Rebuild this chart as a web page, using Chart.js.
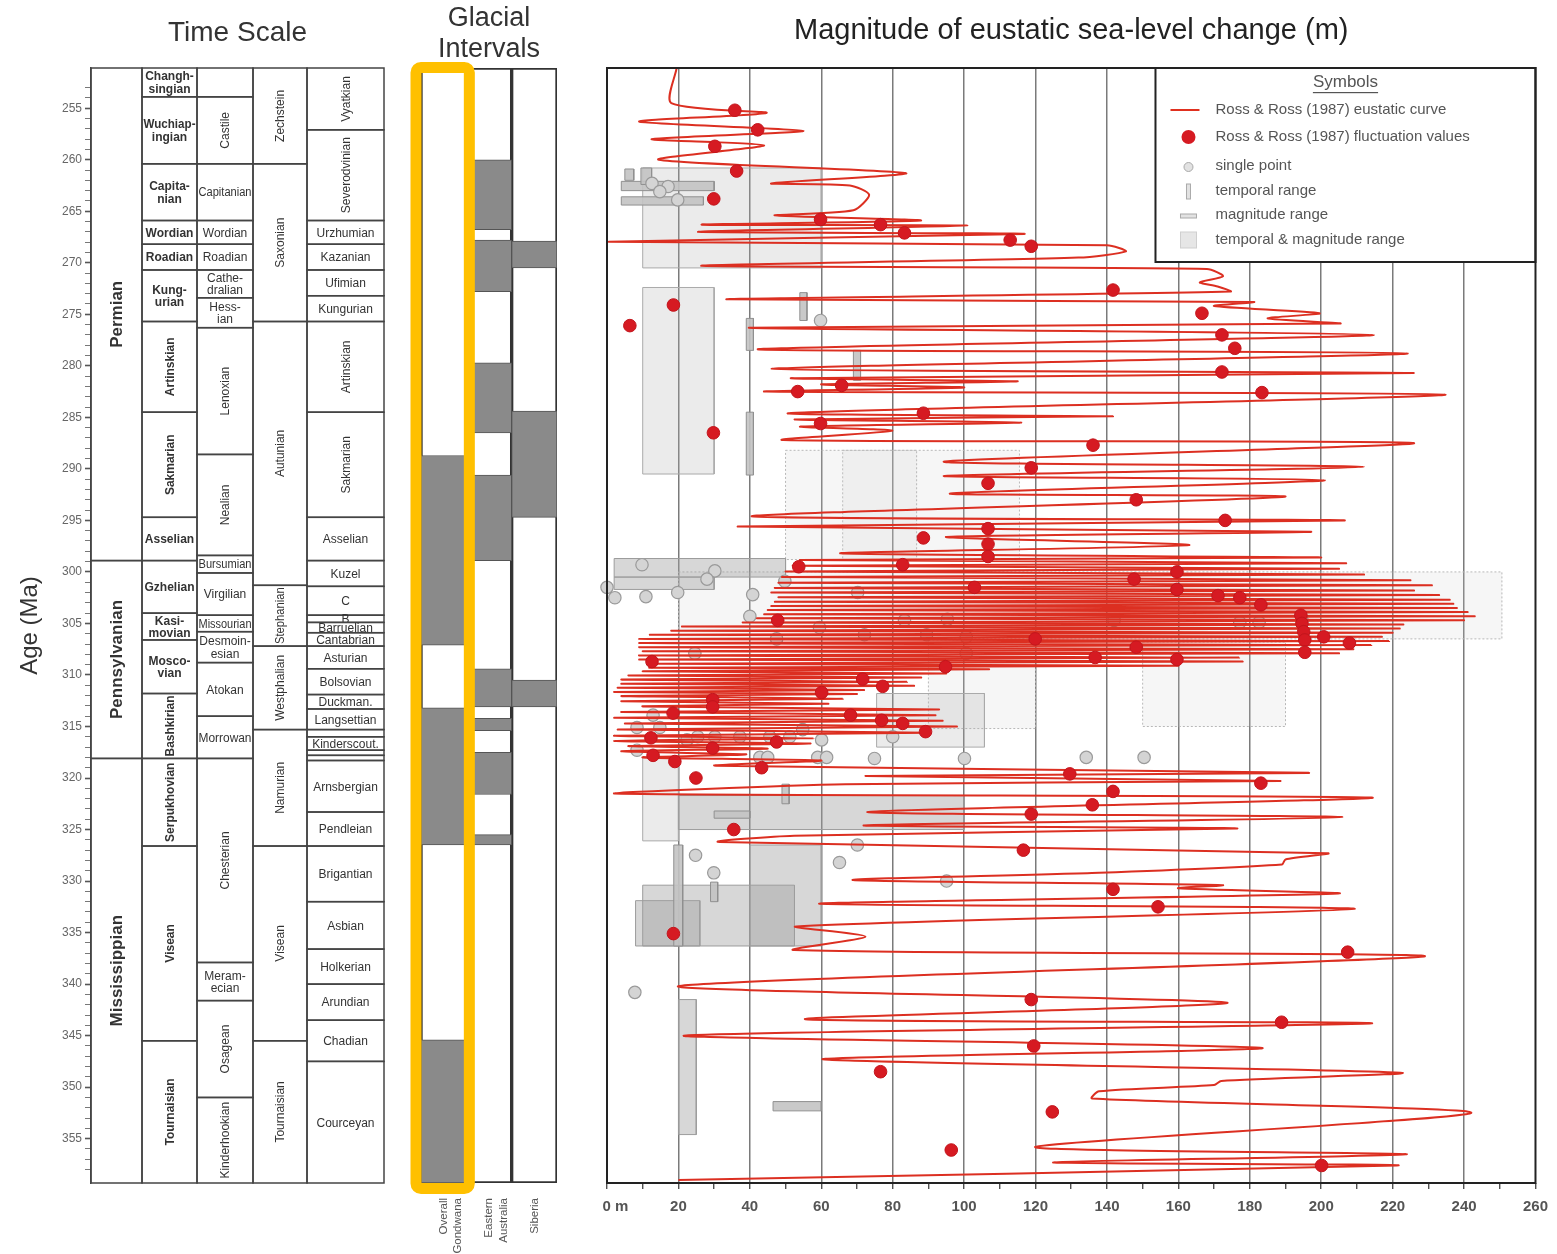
<!DOCTYPE html>
<html>
<head>
<meta charset="utf-8">
<title>Eustatic sea-level change, Carboniferous-Permian</title>
<script src="https://cdn.jsdelivr.net/npm/chart.js@4.4.1/dist/chart.umd.min.js"></script>
<style>
  html, body { margin: 0; padding: 0; background: #fff; }
  #page { position: relative; width: 1557px; height: 1254px; overflow: hidden; }
  canvas { position: absolute; top: 0; }
  #timeScale { left: 0; }
  #glacial { left: 400px; }
  #seaLevel { left: 570px; }
</style>
</head>
<body>
<div id="page">
  <canvas id="timeScale" width="400" height="1254"></canvas>
  <canvas id="glacial" width="170" height="1254"></canvas>
  <canvas id="seaLevel" width="987" height="1254"></canvas>
</div>
<script>
// age range shown (Ma), top to bottom
const AGE_TOP = 251.1;
const AGE_BOTTOM = 359.3;

// ---- time scale: [top age, base age, name] ----
const periods = [
  [251.1, 298.9, 'Permian'], [298.9, 318.1, 'Pennsylvanian'], [318.1, 359.3, 'Mississippian']
];
const globalStages = [
  [251.1, 253.9, 'Changh-\nsingian'], [253.9, 260.4, 'Wuchiap-\ningian'], [260.4, 265.9, 'Capita-\nnian'],
  [265.9, 268.2, 'Wordian'], [268.2, 270.7, 'Roadian'], [270.7, 275.7, 'Kung-\nurian'],
  [275.7, 284.5, 'Artinskian'], [284.5, 294.7, 'Sakmarian'], [294.7, 298.9, 'Asselian'],
  [298.9, 304.0, 'Gzhelian'], [304.0, 306.6, 'Kasi-\nmovian'], [306.6, 311.8, 'Mosco-\nvian'],
  [311.8, 318.1, 'Bashkirian'], [318.1, 326.6, 'Serpukhovian'], [326.6, 345.5, 'Visean'],
  [345.5, 359.3, 'Tournaisian']
];
const northAmericanStages = [
  [251.1, 253.9, ''], [253.9, 260.4, 'Castile'], [260.4, 265.9, 'Capitanian'], [265.9, 268.2, 'Wordian'],
  [268.2, 270.7, 'Roadian'], [270.7, 273.4, 'Cathe-\ndralian'], [273.4, 276.3, 'Hess-\nian'],
  [276.3, 288.6, 'Lenoxian'], [288.6, 298.4, 'Nealian'], [298.4, 300.1, 'Bursumian'],
  [300.1, 304.2, 'Virgilian'], [304.2, 305.8, 'Missourian'], [305.8, 308.8, 'Desmoin-\nesian'],
  [308.8, 314.0, 'Atokan'], [314.0, 318.1, 'Morrowan'], [318.1, 337.9, 'Chesterian'],
  [337.9, 341.6, 'Meram-\necian'], [341.6, 351.0, 'Osagean'], [351.0, 359.3, 'Kinderhookian']
];
const europeanSeries = [
  [251.1, 260.4, 'Zechstein'], [260.4, 275.7, 'Saxonian'], [275.7, 301.3, 'Autunian'],
  [301.3, 307.2, 'Stephanian'], [307.2, 315.3, 'Westphalian'], [315.3, 326.6, 'Namurian'],
  [326.6, 345.5, 'Visean'], [345.5, 359.3, 'Tournaisian']
];
const regionalStages = [
  [251.1, 257.1, 'Vyatkian'], [257.1, 265.9, 'Severodvinian'], [265.9, 268.2, 'Urzhumian'],
  [268.2, 270.7, 'Kazanian'], [270.7, 273.2, 'Ufimian'], [273.2, 275.7, 'Kungurian'],
  [275.7, 284.5, 'Artinskian'], [284.5, 294.7, 'Sakmarian'], [294.7, 298.9, 'Asselian'],
  [298.9, 301.4, 'Kuzel'], [301.4, 304.2, 'C'], [304.2, 304.9, 'B'], [304.9, 305.9, 'Barruelian'],
  [305.9, 307.2, 'Cantabrian'], [307.2, 309.4, 'Asturian'], [309.4, 311.9, 'Bolsovian'],
  [311.9, 313.3, 'Duckman.'], [313.3, 315.3, 'Langsettian'], [315.3, 316.0, ''],
  [316.0, 317.3, 'Kinderscout.'], [317.3, 317.8, ''], [317.8, 318.3, ''],
  [318.3, 323.3, 'Arnsbergian'], [323.3, 326.6, 'Pendleian'], [326.6, 332.0, 'Brigantian'],
  [332.0, 336.6, 'Asbian'], [336.6, 340.0, 'Holkerian'], [340.0, 343.5, 'Arundian'],
  [343.5, 347.5, 'Chadian'], [347.5, 359.3, 'Courceyan']
];

// ---- glacial intervals [top age, base age] ----
const glacialRegions = [['Overall', 'Gondwana'], ['Eastern', 'Australia'], ['Siberia']];
const gondwanaIce = [[288.7, 307.1], [313.2, 326.5], [345.4, 359.3]];
const eastAustraliaIce = [[260.0, 266.8], [267.8, 272.8], [279.7, 286.5], [290.6, 298.9],
  [309.4, 313.1], [314.2, 315.4], [317.5, 321.6], [325.5, 326.5]];
const siberiaIce = [[267.9, 270.5], [284.4, 294.7], [310.5, 313.1]];

// ---- Ross & Ross (1987) eustatic curve: [magnitude m, age Ma] ----
const rossCurve = [
  [19.5, 251.1], [18.0, 254.5], [44.7, 255.45], [9.0, 256.3], [55.0, 257.2], [12.5, 258.0], [44.0, 258.6],
  [14.5, 260.0], [83.7, 261.3], [46.0, 262.3], [68.0, 262.5], [73.4, 263.4], [69.0, 264.9], [47.0, 265.4],
  [87.9, 265.9], [26.5, 266.3], [100.9, 266.4], [25.5, 267.0], [116.9, 267.2], [0.5, 267.95], [140.0, 268.3],
  [145.3, 268.9], [132.0, 269.5], [26.5, 270.3], [168.0, 270.6], [172.5, 271.3], [166.0, 271.9], [171.0, 272.3],
  [174.6, 272.8], [33.4, 273.55], [181.0, 273.8], [170.0, 274.2], [199.5, 274.9], [185.0, 275.4], [205.0, 275.9],
  [39.7, 276.3], [214.7, 277.0], [42.2, 278.4], [224.2, 278.8], [46.1, 280.3], [225.9, 280.7], [52.0, 281.2],
  [115.0, 281.5], [60.0, 281.8], [100.0, 282.1], [44.6, 282.5], [234.8, 282.8], [51.0, 284.6], [141.7, 284.9],
  [52.6, 285.2], [116.0, 285.5], [54.2, 285.9], [79.9, 286.3], [49.4, 287.2], [225.9, 287.5], [94.3, 289.3],
  [212.0, 289.8], [94.3, 290.7], [201.0, 291.1], [96.0, 292.4], [189.8, 292.7], [40.5, 294.6], [206.6, 295.0],
  [36.6, 295.6], [197.0, 296.1], [95.0, 296.6], [163.0, 297.4], [65.4, 298.2],
  [200, 298.6], [54, 298.85], [207, 299.15], [52, 299.4], [205, 299.7], [50, 299.95], [212, 300.25], [49, 300.5],
  [225, 300.8], [48, 301.05], [231, 301.3], [47, 301.55], [226, 301.8], [46, 302.0], [233, 302.25], [48, 302.45],
  [236, 302.7], [47, 302.9], [237, 303.1], [46, 303.3], [238, 303.5], [45, 303.7], [241, 303.9], [44, 304.1],
  [243, 304.3], [42, 304.5], [240, 304.7], [38, 304.9], [223, 305.1], [21, 305.3], [222, 305.5], [18, 305.7],
  [220, 305.9], [12, 306.1], [217, 306.3], [9, 306.5], [219, 306.7], [9, 306.9], [214, 307.1], [9, 307.3],
  [209, 307.5], [10, 307.7], [205, 307.9], [9, 308.1], [177, 308.3], [9, 308.5], [178, 308.7], [14, 308.9],
  [160, 309.1], [12, 309.3], [107, 309.45], [10, 309.65], [95, 309.85], [6, 310.05], [88, 310.25], [4, 310.45],
  [84, 310.65], [4, 310.85], [86, 311.05], [3, 311.25], [72, 311.45], [2, 311.65], [70, 311.85], [4, 312.05],
  [66, 312.3], [4, 312.55], [62, 312.8], [10, 313.05], [93, 313.35], [4, 313.6], [92, 313.9], [2, 314.15],
  [94, 314.45], [5, 314.7], [98, 315.0], [3, 315.3], [90, 315.6], [2, 315.9], [58, 316.15], [2, 316.4],
  [57, 316.65], [6, 316.9], [45, 317.15], [4, 317.4], [39, 317.7], [10, 318.0], [60, 318.3],
  [30.5, 318.8], [196.5, 319.5], [72.4, 319.8], [188.6, 320.3], [66.8, 320.6], [2.0, 321.5], [214.2, 321.9],
  [72.9, 323.3], [205.9, 323.8], [71.9, 324.6], [176.5, 324.9], [52.4, 325.6], [31.5, 326.2], [201.7, 327.3],
  [190.0, 327.9], [189.0, 328.4], [137.8, 329.2], [68.9, 329.9], [172.3, 330.4], [160.0, 330.7], [204.7, 331.2],
  [59.4, 332.2], [209.4, 332.7], [53.0, 334.4], [72.4, 335.4], [52.4, 336.7], [229.0, 337.3], [20.0, 340.2],
  [173.7, 341.8], [55.5, 343.4], [214.2, 343.8], [21.5, 345.0], [183.5, 346.2], [60.4, 347.3], [222.2, 348.6],
  [172.0, 349.4], [170.0, 349.8], [137.8, 350.4], [135.8, 351.1], [242.0, 352.5], [119.9, 355.8], [224.0, 356.5],
  [124.9, 357.3], [221.2, 357.6], [20.0, 359.0]
];

// Ross & Ross (1987) fluctuation values [m, Ma]
const rossFluctuations = [
  [35.8, 255.2], [42.2, 257.1], [30.2, 258.7], [36.3, 261.1], [29.9, 263.8], [59.8, 265.8], [76.6, 266.3],
  [83.3, 267.1], [112.9, 267.8], [118.8, 268.4], [141.7, 272.65], [18.6, 274.1], [6.4, 276.1], [166.6, 274.9],
  [172.2, 277.0], [175.8, 278.3], [172.2, 280.6], [183.4, 282.6], [65.7, 281.9], [53.4, 282.5], [88.6, 284.6],
  [59.8, 285.6], [29.8, 286.5], [136.1, 287.7], [118.8, 289.9], [106.7, 291.4], [148.2, 293.0], [173.1, 295.0],
  [106.7, 295.8], [88.6, 296.7], [106.7, 297.3], [106.7, 298.5], [53.7, 299.5], [82.8, 299.3], [102.9, 301.5],
  [47.8, 304.7], [12.6, 308.7], [94.8, 309.2], [71.6, 310.4], [77.2, 311.1], [60.1, 311.7], [29.6, 312.4],
  [29.6, 313.1], [18.5, 313.7], [68.2, 313.9], [76.9, 314.4], [82.8, 314.7], [89.2, 315.5], [12.3, 316.1],
  [47.5, 316.5], [29.6, 317.1], [12.9, 317.8], [19.0, 318.4], [43.3, 319.0], [129.6, 319.6], [159.6, 300.0],
  [147.6, 300.7], [159.6, 301.7], [171.1, 302.3], [177.2, 302.5], [183.1, 303.2], [194.3, 304.2], [194.6, 305.0],
  [195.1, 305.8], [195.4, 306.6], [195.4, 307.8], [200.7, 306.3], [207.9, 306.9], [148.2, 307.3], [136.7, 308.3],
  [159.6, 308.5], [119.9, 306.5], [24.9, 320.0], [141.7, 321.3], [183.1, 320.5], [135.9, 322.6], [118.8, 323.5],
  [35.5, 325.0], [116.6, 327.0], [141.7, 330.8], [154.3, 332.5], [18.6, 335.1], [207.4, 336.9], [118.8, 341.5],
  [188.9, 343.7], [119.5, 346.0], [76.6, 348.5], [124.7, 352.4], [96.4, 356.1], [200.1, 357.6]
];

// compiled single-point estimates [m, Ma]
const singlePoints = [
  [12.6, 262.3], [17.1, 262.6], [14.8, 263.1], [19.8, 263.9], [59.8, 275.6],
  [9.8, 299.3], [30.2, 299.9], [28.0, 300.7], [0, 301.5], [2.2, 302.5], [10.9, 302.4], [19.8, 302.0],
  [40.8, 302.2], [40.0, 304.3], [49.8, 300.9], [70.2, 302.0], [83.3, 304.7], [95.3, 304.6], [59.5, 305.4],
  [72.1, 306.1], [89.5, 306.1], [100.6, 306.3], [47.5, 306.5], [24.6, 307.9], [100.6, 307.9], [142, 304.7],
  [177.2, 304.9], [182.6, 304.9], [194.6, 304.7],
  [12.9, 313.9], [8.4, 315.1], [14.8, 315.1], [22.4, 316.3], [25.4, 316.0], [30.2, 316.0], [37.2, 316.0],
  [45.6, 316.0], [51.2, 316.0], [54.8, 315.3], [60.1, 316.3], [80.0, 316.0], [8.4, 317.3], [42.8, 318.0],
  [45.0, 318.0], [59.0, 318.0], [61.5, 318.0], [74.9, 318.1], [100.1, 318.1], [134.2, 318.0], [150.4, 318.0],
  [24.8, 327.5], [29.9, 329.2], [70.1, 326.5], [65.1, 328.2], [95.1, 330.0], [7.8, 340.8]
];

// ranges [m from, m to, Ma from, Ma to]
const tmRanges = [
  [10, 60, 260.8, 270.5], [10, 30, 272.4, 290.5], [75.5, 105.7, 311.8, 317.0], [10, 20, 318.0, 326.1]
];
const tmRangesDense = [
  [2, 50, 298.7, 300.5], [2, 30, 300.5, 301.7], [20, 100, 321.7, 325.0], [40, 60, 326.5, 336.3],
  [10, 52.5, 330.4, 336.3], [8, 26, 331.9, 336.3], [20, 25, 341.5, 354.6]
];
const looseRanges = [
  [50, 86.7, 288.2, 298.8], [66, 115.5, 288.2, 298.8], [20, 250.6, 300.0, 306.5],
  [90, 120, 306.6, 315.2], [150, 190, 306.8, 315.0]
];
const temporalRanges = [
  [5, 7.5, 260.9, 262.0], [9.5, 12.5, 260.8, 262.4], [39, 41, 275.4, 278.5], [39, 41, 284.5, 290.6],
  [54, 56, 272.9, 275.6], [69, 71, 278.5, 281.4], [49, 51, 320.6, 322.5], [18.7, 21.2, 326.5, 336.3],
  [29, 31, 330.1, 332.0]
];
const magnitudeRanges = [
  [4, 30, 262.1, 263.0], [4, 27, 263.6, 264.4], [30, 40, 323.2, 323.9], [46.5, 60, 351.4, 352.3]
];

// ---------------- layout / styling ----------------
Chart.defaults.font.family = '"Liberation Sans", Arial, sans-serif';
Chart.defaults.color = '#555';

const FONT = '"Liberation Sans", Arial, sans-serif';
const stageColumns = [periods, globalStages, northAmericanStages, europeanSeries, regionalStages];
const columnEdges = [0, 51, 106, 162, 216, 293];
const columnFonts = ['bold 17px ' + FONT, 'bold 12px ' + FONT, '12px ' + FONT, '12px ' + FONT, '12px ' + FONT];
const uprightNames = new Set(['Permian', 'Pennsylvanian', 'Mississippian', 'Artinskian', 'Sakmarian',
  'Bashkirian', 'Serpukhovian', 'Visean', 'Tournaisian', 'Castile', 'Lenoxian', 'Nealian', 'Chesterian',
  'Osagean', 'Kinderhookian', 'Zechstein', 'Saxonian', 'Autunian', 'Stephanian', 'Westphalian',
  'Namurian', 'Vyatkian', 'Severodvinian']);

const stageCells = {
  id: 'stageCells',
  afterDraw(chart) {
    const {ctx, scales: {x, y}} = chart;
    ctx.save();
    ctx.strokeStyle = '#444';
    ctx.lineWidth = 1.5;
    ctx.textAlign = 'center';
    ctx.textBaseline = 'middle';
    stageColumns.forEach((col, c) => {
      const x0 = x.getPixelForValue(columnEdges[c]);
      const x1 = x.getPixelForValue(columnEdges[c + 1]);
      col.forEach(([a0, a1, name]) => {
        const y0 = y.getPixelForValue(a0);
        const y1 = y.getPixelForValue(a1);
        ctx.strokeRect(x0, y0, x1 - x0, y1 - y0);
        if (!name) return;
        ctx.fillStyle = '#333';
        ctx.font = columnFonts[c];
        const cx = (x0 + x1) / 2, cy = (y0 + y1) / 2;
        if (uprightNames.has(name)) {
          ctx.save();
          ctx.translate(cx, cy);
          ctx.rotate(-Math.PI / 2);
          ctx.fillText(name, 0, 1, y1 - y0 - 4);
          ctx.restore();
        } else {
          const lines = name.split('\n');
          lines.forEach((t, i) => {
            ctx.fillText(t, cx, cy + 1 + (i - (lines.length - 1) / 2) * 12.5, x1 - x0 - 3);
          });
        }
      });
    });
    ctx.restore();
  }
};

new Chart(document.getElementById('timeScale'), {
  type: 'scatter',
  data: { datasets: [] },
  options: {
    responsive: false,
    animation: false,
    layout: { padding: { left: 0, right: 16, top: 0, bottom: 71 } },
    plugins: {
      legend: { display: false },
      tooltip: { enabled: false },
      title: {
        display: true, text: 'Time Scale', fullSize: false, color: '#333',
        font: { size: 28, weight: 'normal', lineHeight: 1.2 }, padding: { top: 16, bottom: 18.4 }
      }
    },
    scales: {
      x: { type: 'linear', min: 0, max: 293, display: false },
      y: {
        type: 'linear', reverse: true, min: AGE_TOP, max: AGE_BOTTOM, position: 'left',
        afterBuildTicks: s => { s.ticks = s.ticks.filter(t => Number.isInteger(t.value)); },
        afterFit: s => { s.width = 91; },
        ticks: {
          stepSize: 1, maxTicksLimit: 200, autoSkip: false, color: '#666', padding: 3,
          font: { size: 12 }, callback: v => (v % 5 === 0 ? v : '')
        },
        grid: {
          drawOnChartArea: false, tickLength: 6, tickColor: '#555',
          tickWidth: c => (c.tick && c.tick.value % 5 === 0 ? 1.6 : 0.8)
        },
        border: { color: '#444', width: 1.5 },
        title: { display: true, text: 'Age (Ma)', color: '#333', font: { size: 24 }, padding: { top: 16, bottom: 0 } }
      }
    }
  },
  plugins: [stageCells]
});

// ---------------- glacial intervals ----------------
const iceSets = [gondwanaIce, eastAustraliaIce, siberiaIce];
const iceDepth = Math.max(...iceSets.map(s => s.length));
const barBase = { grouped: false, categoryPercentage: 1, barPercentage: 1, borderSkipped: false };
const glacialDatasets = [{
  ...barBase, order: 2,
  data: glacialRegions.map(() => [AGE_TOP, AGE_BOTTOM]),
  backgroundColor: '#fff', borderColor: '#333', borderWidth: 2
}];
for (let k = 0; k < iceDepth; k++) {
  glacialDatasets.push({
    ...barBase, order: 1,
    data: iceSets.map(s => s[k] || null),
    backgroundColor: '#8a8a8a', borderColor: '#555', borderWidth: 1
  });
}

const gondwanaHighlight = {
  id: 'gondwanaHighlight',
  afterDraw(chart) {
    const {ctx, chartArea: a, scales: {x}} = chart;
    const half = (x.getPixelForValue(1) - x.getPixelForValue(0)) / 2;
    const left = x.getPixelForValue(0) - half;
    const right = x.getPixelForValue(0) + half;
    ctx.save();
    ctx.strokeStyle = '#FFC000';
    ctx.lineWidth = 11;
    ctx.beginPath();
    ctx.roundRect(left - 5, a.top - 0.5, right - left + 8, a.bottom - a.top + 6, 5);
    ctx.stroke();
    ctx.restore();
  }
};

new Chart(document.getElementById('glacial'), {
  type: 'bar',
  data: { labels: glacialRegions, datasets: glacialDatasets },
  options: {
    responsive: false,
    animation: false,
    layout: { padding: { left: 21, right: 13, top: 0, bottom: 0 } },
    plugins: {
      legend: { display: false },
      tooltip: { enabled: false },
      title: {
        display: true, text: ['Glacial', 'Intervals'], fullSize: false, color: '#333',
        font: { size: 27, weight: 'normal', lineHeight: 1.15 }, padding: { top: 3, bottom: 2.9 }
      }
    },
    scales: {
      x: {
        type: 'category',
        afterFit: s => { s.height = 71; },
        grid: { display: false },
        border: { display: false },
        ticks: { minRotation: 90, maxRotation: 90, autoSkip: false, padding: 7, color: '#555', font: { size: 11.5, lineHeight: 1.25 } }
      },
      y: { type: 'linear', reverse: true, min: AGE_TOP, max: AGE_BOTTOM, display: false }
    }
  },
  plugins: [gondwanaHighlight]
});

// ---------------- sea-level magnitude ----------------
const toXY = arr => arr.map(([m, a]) => ({ x: m, y: a }));
const box = ([m0, m1, a0, a1]) => [
  { x: m0, y: a0 }, { x: m1, y: a0 }, { x: m1, y: a1 }, { x: m0, y: a1 }, { x: m0, y: a0 }
];
const rangeSets = (list, style, order) => list.map(r => ({
  type: 'line', data: box(r), fill: 'shape', pointRadius: 0, tension: 0, order, ...style
}));

const seaDatasets = [
  ...rangeSets(looseRanges, { backgroundColor: 'rgba(205,205,205,0.18)', borderColor: '#b8b8b8', borderWidth: 1, borderDash: [2, 2] }, 7),
  ...rangeSets(tmRanges, { backgroundColor: 'rgba(175,175,175,0.25)', borderColor: '#aaa', borderWidth: 1 }, 6),
  ...rangeSets(tmRangesDense, { backgroundColor: 'rgba(160,160,160,0.42)', borderColor: '#9c9c9c', borderWidth: 1 }, 5),
  ...rangeSets(temporalRanges, { backgroundColor: 'rgba(195,195,195,0.9)', borderColor: '#909090', borderWidth: 1 }, 4),
  ...rangeSets(magnitudeRanges, { backgroundColor: 'rgba(195,195,195,0.9)', borderColor: '#909090', borderWidth: 1 }, 4),
  {
    label: 'single point', data: toXY(singlePoints), order: 3, clip: false,
    pointRadius: 6.2, backgroundColor: '#d4d4d4', borderColor: '#9a9a9a', borderWidth: 1.2
  },
  {
    type: 'line', label: 'Ross & Ross (1987) eustatic curve', data: toXY(rossCurve), order: 2,
    borderColor: '#dc2f21', borderWidth: 2, pointRadius: 0, tension: 0.25, fill: false
  },
  {
    label: 'Ross & Ross (1987) fluctuation values', data: toXY(rossFluctuations), order: 1,
    pointRadius: 6.3, backgroundColor: '#d61a22', borderColor: '#c2151c', borderWidth: 1
  }
];

const symbolsBox = {
  id: 'symbolsBox',
  afterDatasetsDraw(chart) {
    const {ctx, chartArea: a} = chart;
    const w = 380, h = 194;
    const x0 = a.right - w, y0 = a.top;
    const ix = x0 + 33, tx = x0 + 60;
    ctx.save();
    ctx.fillStyle = '#fff';
    ctx.fillRect(x0, y0, w, h);
    ctx.strokeStyle = '#222';
    ctx.lineWidth = 2;
    ctx.strokeRect(x0, y0, w, h);

    ctx.fillStyle = '#555';
    ctx.textBaseline = 'middle';
    ctx.textAlign = 'center';
    ctx.font = '17px ' + FONT;
    ctx.fillText('Symbols', x0 + 190, y0 + 14);
    const sw = ctx.measureText('Symbols').width;
    ctx.fillRect(x0 + 190 - sw / 2, y0 + 24, sw, 1.2);

    ctx.textAlign = 'left';
    ctx.font = '15px ' + FONT;
    const rows = [
      [42, 'Ross & Ross (1987) eustatic curve'], [69, 'Ross & Ross (1987) fluctuation values'],
      [98, 'single point'], [123, 'temporal range'], [147, 'magnitude range'], [172, 'temporal & magnitude range']
    ];
    rows.forEach(([dy, t]) => ctx.fillText(t, tx, y0 + dy));

    ctx.strokeStyle = '#e0301f';
    ctx.lineWidth = 2;
    ctx.beginPath(); ctx.moveTo(x0 + 15, y0 + 42); ctx.lineTo(x0 + 44, y0 + 42); ctx.stroke();
    ctx.fillStyle = '#d61a22';
    ctx.beginPath(); ctx.arc(ix, y0 + 69, 7, 0, Math.PI * 2); ctx.fill();
    ctx.fillStyle = '#e2e2e2'; ctx.strokeStyle = '#aaa'; ctx.lineWidth = 1;
    ctx.beginPath(); ctx.arc(ix, y0 + 99, 4.5, 0, Math.PI * 2); ctx.fill(); ctx.stroke();
    ctx.fillRect(ix - 2, y0 + 116, 4, 15); ctx.strokeRect(ix - 2, y0 + 116, 4, 15);
    ctx.fillRect(ix - 8, y0 + 146, 16, 4); ctx.strokeRect(ix - 8, y0 + 146, 16, 4);
    ctx.fillStyle = '#e6e6e6'; ctx.strokeStyle = '#cfcfcf';
    ctx.fillRect(ix - 8, y0 + 164, 16, 16); ctx.strokeRect(ix - 8, y0 + 164, 16, 16);
    ctx.restore();
  }
};

const plotFrame = {
  id: 'plotFrame',
  afterDraw(chart) {
    const {ctx, chartArea: a} = chart;
    ctx.save();
    ctx.strokeStyle = '#222';
    ctx.lineWidth = 2;
    ctx.strokeRect(a.left, a.top, a.right - a.left, a.bottom - a.top);
    ctx.restore();
  }
};

new Chart(document.getElementById('seaLevel'), {
  type: 'scatter',
  data: { datasets: seaDatasets },
  options: {
    responsive: false,
    animation: false,
    layout: { padding: { left: 37, right: 20, top: 0, bottom: 0 } },
    plugins: {
      legend: { display: false },
      tooltip: { enabled: false },
      title: {
        display: true, text: 'Magnitude of eustatic sea-level change (m)', fullSize: false, color: '#222',
        font: { size: 29, weight: 'normal', lineHeight: 1.2 }, padding: { top: 13.6, bottom: 19.6 }
      }
    },
    scales: {
      x: {
        type: 'linear', min: 0, max: 260,
        afterFit: s => { s.height = 71; },
        ticks: {
          stepSize: 10, autoSkip: false, maxRotation: 0, color: '#555', padding: 9,
          font: { size: 15, weight: 'bold' },
          callback: v => (v % 20 ? '' : (v === 0 ? '    0 m' : v))
        },
        grid: {
          color: c => (c.tick && c.tick.value % 20 === 0 && c.tick.value > 0 && c.tick.value < 260 ? '#7a7a7a' : 'rgba(0,0,0,0)'),
          lineWidth: 1.5, tickLength: 6, tickColor: '#333', tickWidth: 1.2
        },
        border: { display: false }
      },
      y: { type: 'linear', reverse: true, min: AGE_TOP, max: AGE_BOTTOM, display: false }
    }
  },
  plugins: [symbolsBox, plotFrame]
});
</script>
</body>
</html>
